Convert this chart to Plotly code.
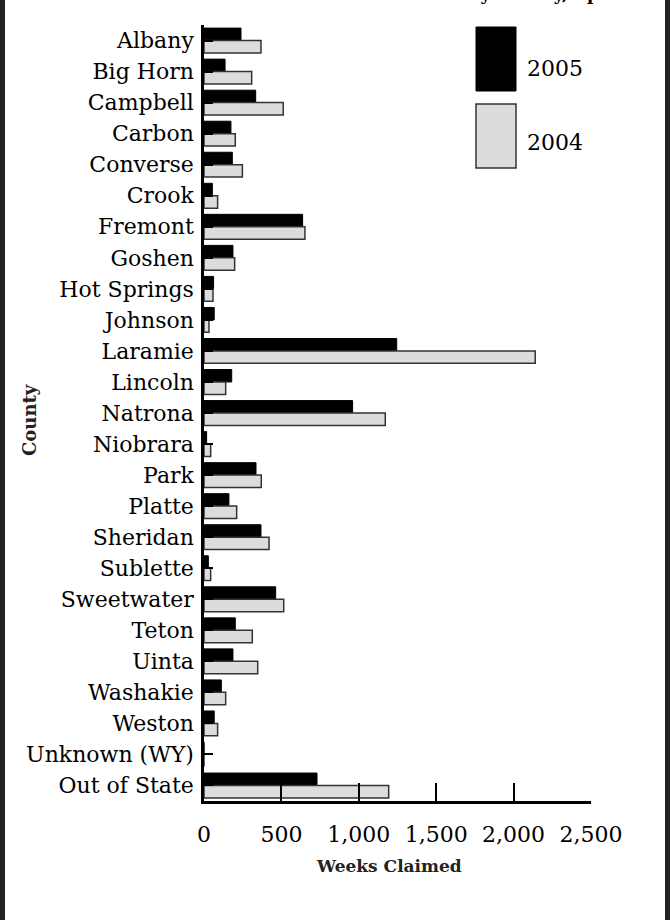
import plotly.graph_objects as go

counties = ["Albany", "Big Horn", "Campbell", "Carbon", "Converse", "Crook", "Fremont",
            "Goshen", "Hot Springs", "Johnson", "Laramie", "Lincoln", "Natrona", "Niobrara",
            "Park", "Platte", "Sheridan", "Sublette", "Sweetwater", "Teton", "Uinta",
            "Washakie", "Weston", "Unknown (WY)", "Out of State"]
weeks_2005 = [239, 136, 334, 174, 183, 54, 637, 187, 62, 66, 1245, 179, 960, 17,
              336, 161, 368, 28, 463, 202, 187, 112, 66, 0, 730]
weeks_2004 = [368, 308, 512, 202, 248, 88, 652, 198, 58, 32, 2140, 140, 1171, 43,
              370, 211, 420, 43, 515, 312, 347, 140, 88, 0, 1193]
series_names = ["2005", "2004"]
x_ticks = [0, 500, 1000, 1500, 2000, 2500]

FONT = "DejaVu Serif"

fig = go.Figure()
fig.add_trace(go.Bar(y=counties, x=weeks_2005, orientation="h", name=series_names[0],
                     marker=dict(color="#000000", line=dict(color="#000000", width=1)),
                     showlegend=False))
fig.add_trace(go.Bar(y=counties, x=weeks_2004, orientation="h", name=series_names[1],
                     marker=dict(color="#dcdcdc", line=dict(color="#333333", width=1.5)),
                     showlegend=False))

# plot area in pixels: x 204..591, y 25..801
L, R, T, B = 204, 591, 25, 801
W, H = 670, 920
def px(x):
    return (x - L) / (R - L)
def py(y):
    return (B - y) / (B - T)

shapes = [
    # page frame side bands
    dict(type="rect", xref="paper", yref="paper", x0=px(0), x1=px(5), y0=py(H), y1=py(0),
         fillcolor="#222222", line=dict(width=0), layer="above"),
    dict(type="rect", xref="paper", yref="paper", x0=px(665), x1=px(670), y0=py(H), y1=py(0),
         fillcolor="#222222", line=dict(width=0), layer="above"),
    # legend swatches
    dict(type="rect", xref="paper", yref="paper", x0=px(476), x1=px(516), y0=py(91), y1=py(27),
         fillcolor="#000000", line=dict(color="#000000", width=1)),
    dict(type="rect", xref="paper", yref="paper", x0=px(476), x1=px(516), y0=py(168), y1=py(104),
         fillcolor="#dcdcdc", line=dict(color="#333333", width=1.5)),
]

annotations = [
    dict(text=series_names[0], xref="paper", yref="paper", x=px(525), y=py(68),
         xanchor="left", yanchor="middle", showarrow=False,
         font=dict(family=FONT, size=22, color="#000")),
    dict(text=series_names[1], xref="paper", yref="paper", x=px(525), y=py(142),
         xanchor="left", yanchor="middle", showarrow=False,
         font=dict(family=FONT, size=22, color="#000")),
    dict(text="<b>County</b>", xref="paper", yref="paper", x=px(29), y=py(420),
         xanchor="center", yanchor="middle", textangle=-90, showarrow=False,
         font=dict(family=FONT, size=18, color="#222")),
    dict(text="<b>Weeks Claimed</b>", xref="paper", yref="paper", x=px(389), y=py(866),
         xanchor="center", yanchor="middle", showarrow=False,
         font=dict(family=FONT, size=17, color="#222")),
    dict(text="<b>Weeks Claimed by County, April 2005</b>", xref="paper", yref="paper",
         x=px(315), y=py(6), xanchor="left", yanchor="bottom", showarrow=False,
         font=dict(family=FONT, size=17, color="#000")),
]

fig.update_layout(
    width=W, height=H,
    margin=dict(l=L, r=W - R, t=T, b=H - B),
    paper_bgcolor="white", plot_bgcolor="white",
    barmode="group", bargap=0.2, bargroupgap=0,
    separators=".,",
    font=dict(family=FONT, size=22, color="#000"),
    shapes=shapes, annotations=annotations,
    xaxis=dict(range=[0, 2500], tickvals=x_ticks, tickformat=",d",
               ticks="inside", ticklen=18, tickwidth=2, tickcolor="#000",
               showline=True, linewidth=2.5, linecolor="#000",
               showgrid=False, zeroline=False, ticklabelstandoff=12,
               tickfont=dict(family=FONT, size=22, color="#000")),
    yaxis=dict(categoryorder="array", categoryarray=counties, autorange="reversed",
               ticks="inside", ticklen=9, tickwidth=2, tickcolor="#000",
               showline=True, linewidth=2.5, linecolor="#000",
               showgrid=False, zeroline=False, ticklabelstandoff=3,
               tickfont=dict(family=FONT, size=22, color="#000")),
)

fig.write_html("out.html", config={"displayModeBar": False},
               post_script="document.body.style.margin='0px';document.body.style.padding='0px';")
